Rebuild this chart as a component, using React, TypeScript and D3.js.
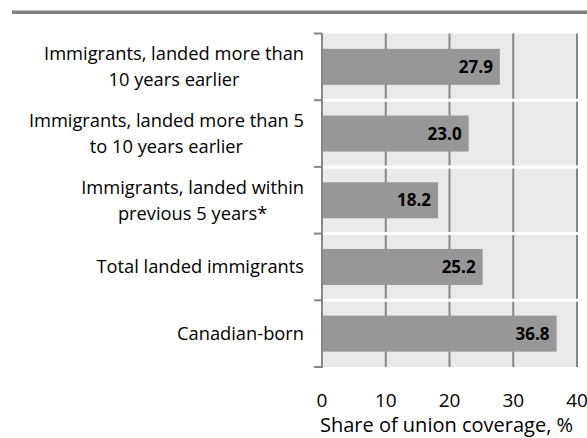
import React, { useEffect, useRef } from 'react';
import * as d3 from 'd3';

const categories = [
  'Immigrants, landed more than 10 years earlier',
  'Immigrants, landed more than 5 to 10 years earlier',
  'Immigrants, landed within previous 5 years*',
  'Total landed immigrants',
  'Canadian-born',
];
const labelLines = [
  ['Immigrants, landed more than', '10 years earlier'],
  ['Immigrants, landed more than 5', 'to 10 years earlier'],
  ['Immigrants, landed within', 'previous 5 years*'],
  ['Total landed immigrants'],
  ['Canadian-born'],
];
const values = [27.9, 23.0, 18.2, 25.2, 36.8];
const xTicks = [0, 10, 20, 30, 40];
const axisTitle = 'Share of union coverage, %';

const W = 587;
const H = 438;
const FONT = '"Open Sans", sans-serif';

const App = () => {
  const ref = useRef(null);

  useEffect(() => {
    const svg = d3.select(ref.current);
    svg.selectAll('*').remove();

    const left = 322, right = 577, top = 33.5, bottom = 367;

    const x = d3.scaleLinear().domain([0, 40]).range([left, right]);
    const y = d3.scaleBand()
      .domain(categories)
      .range([top, bottom])
      .paddingInner(0.46)
      .paddingOuter(0.23);
    const step = y.step();

    // top rule
    svg.append('rect')
      .attr('x', 12).attr('y', 10.5).attr('width', W - 12).attr('height', 3.5)
      .attr('fill', '#808080');

    // plot background
    svg.append('rect')
      .attr('x', left).attr('y', top).attr('width', right - left).attr('height', bottom - top)
      .attr('fill', '#eaeaea');

    // vertical gridlines
    svg.append('g')
      .selectAll('line')
      .data(xTicks.slice(1))
      .enter().append('line')
      .attr('x1', d => x(d)).attr('x2', d => x(d))
      .attr('y1', top).attr('y2', bottom)
      .attr('stroke', '#868686')
      .attr('stroke-width', 2);

    // row boundaries
    const bounds = categories.map(c => (y(c) as number) - step * 0.23);
    bounds.push(bottom);

    svg.append('g')
      .selectAll('line')
      .data(bounds.slice(1, -1))
      .enter().append('line')
      .attr('x1', left).attr('x2', right + 1)
      .attr('y1', d => d).attr('y2', d => d)
      .attr('stroke', '#ffffff')
      .attr('stroke-width', 3);

    // bars
    svg.append('g')
      .selectAll('rect')
      .data(values)
      .enter().append('rect')
      .attr('x', x(0))
      .attr('y', (d, i) => y(categories[i]) as number)
      .attr('width', d => x(d) - x(0))
      .attr('height', y.bandwidth())
      .attr('fill', '#979797');

    // value labels
    svg.append('g')
      .selectAll('text')
      .data(values)
      .enter().append('text')
      .attr('x', d => x(d) - 7)
      .attr('y', (d, i) => (y(categories[i]) as number) + y.bandwidth() / 2 + 6)
      .attr('text-anchor', 'end')
      .style('font-family', FONT)
      .style('font-size', '17px')
      .style('font-weight', 'bold')
      .style('fill', '#000')
      .text(d => d.toFixed(1));

    // left axis line + ticks
    svg.append('line')
      .attr('x1', left).attr('x2', left)
      .attr('y1', top).attr('y2', bottom + 1)
      .attr('stroke', '#868686').attr('stroke-width', 2);
    svg.append('g')
      .selectAll('line')
      .data(bounds)
      .enter().append('line')
      .attr('x1', left - 8).attr('x2', left)
      .attr('y1', d => d).attr('y2', d => d)
      .attr('stroke', '#868686').attr('stroke-width', 2);

    // category labels
    labelLines.forEach((lines, i) => {
      const cy = (y(categories[i]) as number) + y.bandwidth() / 2;
      const g = svg.append('g');
      const texts = lines.map((ln, j) => g.append('text')
        .attr('y', cy + 6.5 + (j - (lines.length - 1) / 2) * 26)
        .attr('text-anchor', 'middle')
        .style('font-family', FONT)
        .style('font-size', '18.3px')
        .style('fill', '#000')
        .text(ln));
      const widest = d3.max(texts, t => (t.node() as SVGTextElement).getComputedTextLength()) || 0;
      const cx = 304 - widest / 2;
      texts.forEach(t => t.attr('x', cx));
    });

    // x tick labels
    svg.append('g')
      .selectAll('text')
      .data(xTicks)
      .enter().append('text')
      .attr('x', d => x(d))
      .attr('y', 407)
      .attr('text-anchor', 'middle')
      .style('font-family', FONT)
      .style('font-size', '19px')
      .style('fill', '#000')
      .text(d => d);

    // axis title
    svg.append('text')
      .attr('x', (left + right) / 2 - 3)
      .attr('y', 432)
      .attr('text-anchor', 'middle')
      .style('font-family', FONT)
      .style('font-size', '20px')
      .style('fill', '#000')
      .text(axisTitle);
  }, []);

  return (
    <svg
      ref={ref}
      width={W}
      height={H}
      style={{ position: 'absolute', left: 0, top: 0, background: '#fff' }}
    ></svg>
  );
};

export default App;
